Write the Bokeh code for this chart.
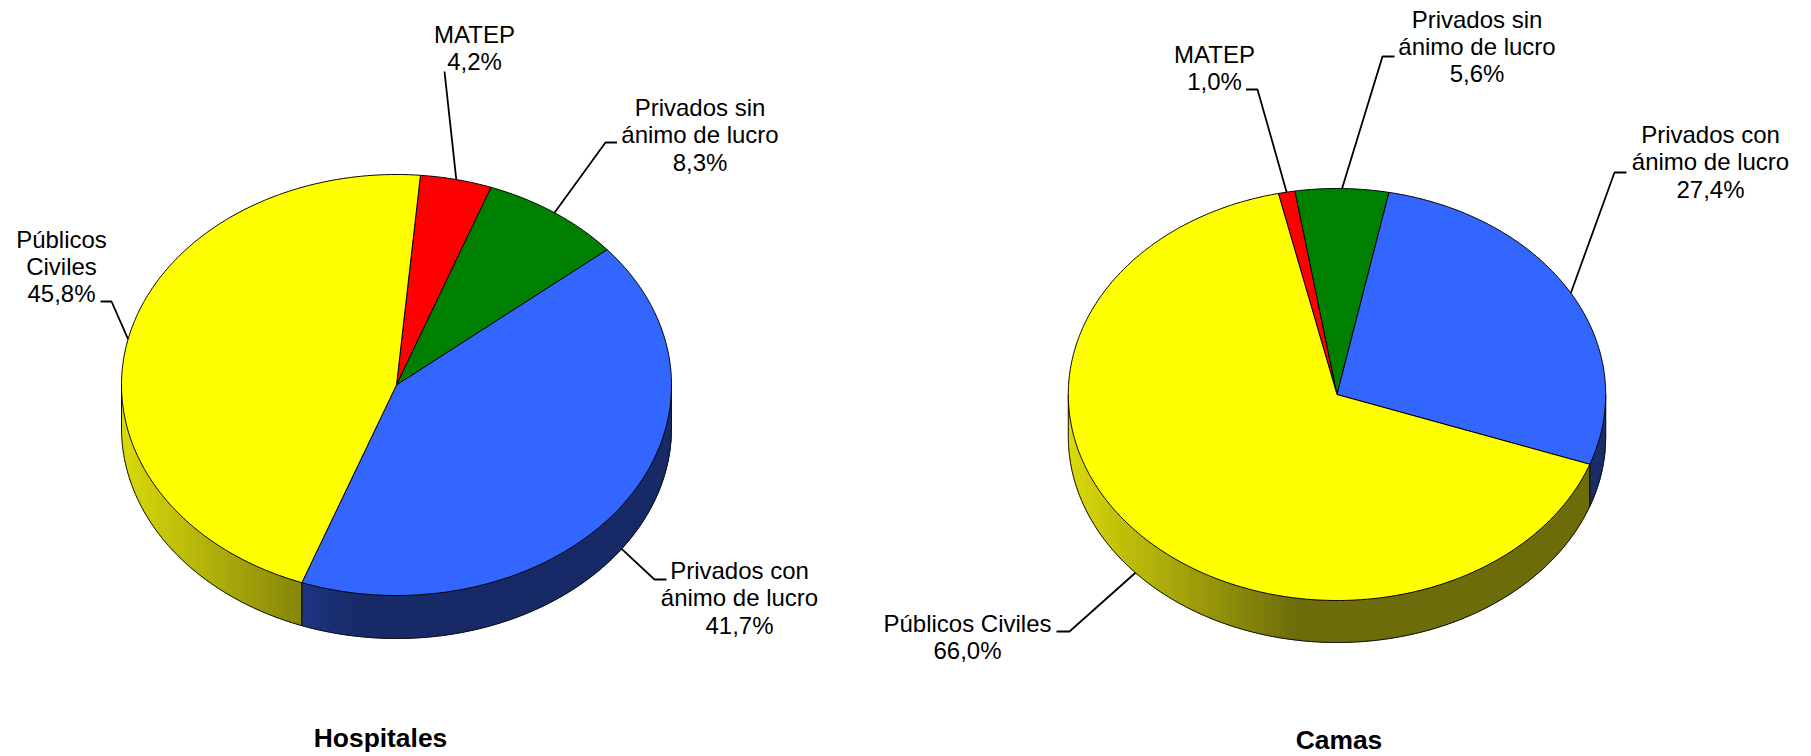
import numpy as np
from bokeh.embed import file_html
from bokeh.layouts import row
from bokeh.models import ColumnDataSource, Range1d
from bokeh.core.properties import value
from bokeh.plotting import figure
from bokeh.resources import INLINE

# ---- data ----
categories = ["MATEP", "Privados sin ánimo de lucro", "Privados con ánimo de lucro", "Públicos Civiles"]
hospitales_pct = [4.2, 8.3, 41.7, 45.8]
camas_pct = [1.0, 5.6, 27.4, 66.0]
hospitales_name_lines = [["MATEP"], ["Privados sin", "ánimo de lucro"], ["Privados con", "ánimo de lucro"], ["Públicos", "Civiles"]]
camas_name_lines = [["MATEP"], ["Privados sin", "ánimo de lucro"], ["Privados con", "ánimo de lucro"], ["Públicos Civiles"]]
titles = ["Hospitales", "Camas"]
colors = [(255, 0, 0), (0, 128, 0), (51, 102, 255), (255, 255, 0)]

# ---- layout (page pixels) ----
FONT = "Liberation Sans"
LABEL_SIZE = "24px"
TITLE_SIZE = "26.4px"
LINE_H = 27.4
hosp_geo = dict(cx=396, cy=384.5, rx=275, ry=210.5, depth=43, start=5.0)
camas_geo = dict(cx=1336.5, cy=394, rx=268.7, ry=206, depth=42, start=347.4)
hosp_label_pos = [(474, 34), (699.5, 107), (739, 570), (61, 238.5)]
camas_label_pos = [(1214, 53.5), (1476.5, 18.5), (1710, 134), (967, 622.5)]
hosp_elbow = [[(444, 71)], [(616.5, 142), (605, 142)], [(666, 579), (654, 579)], [(100, 301), (111, 301)]]
camas_elbow = [[(1245.5, 89), (1257, 89)], [(1394, 56), (1382, 56)], [(1626, 172), (1614, 172)], [(1056, 631), (1069, 631)]]
hosp_title_pos = (380, 737.5)
camas_title_pos = (1338.5, 739)


def pt(g, a):
    r = np.radians(a)
    return g["cx"] + g["rx"] * np.sin(r), g["cy"] - g["ry"] * np.cos(r)


def draw_pie(p, pct, names, geo, label_pos, elbows, title, title_pos):
    total = sum(pct)
    sweeps = [v / total * 360 for v in pct]
    starts = geo["start"] + np.concatenate([[0], np.cumsum(sweeps)[:-1]])
    cx, cy, rx, ry, depth = geo["cx"], geo["cy"], geo["rx"], geo["ry"], geo["depth"]
    left = cx - rx

    # side wall: thin vertical strips with a horizontal shading
    sx, sy, sc = [], [], []
    edges_x, edges_y = [], []
    for s, w, c in zip(starts, sweeps, colors):
        for shift in (-360, 0, 360):
            a0 = max(s + shift, 90)
            a1 = min(s + w + shift, 270)
            if a1 <= a0:
                continue
            xhi = pt(geo, a0)[0]
            xlo = pt(geo, a1)[0]
            xs = np.append(np.arange(xlo, xhi, 1.0), xhi)
            ys = cy + ry * np.sqrt(np.clip(1 - ((xs - cx) / rx) ** 2, 0, 1))
            for i in range(len(xs) - 1):
                t = min(max((0.5 * (xs[i] + xs[i + 1]) - left) / (0.86 * rx), 0), 1)
                f = 0.85 - 0.45 * t
                sx.append([xs[i], xs[i + 1], xs[i + 1], xs[i]])
                sy.append([ys[i], ys[i + 1], ys[i + 1] + depth, ys[i] + depth])
                sc.append("#%02x%02x%02x" % tuple(int(v * f) for v in c))
            for a in (a0, a1):
                ex, ey = pt(geo, a)
                edges_x.append([ex, ex])
                edges_y.append([ey, ey + depth])
    p.patches(sx, sy, fill_color=sc, line_color=sc, line_width=0.6)

    arc = np.linspace(90, 270, 240)
    ax, ay = pt(geo, arc)
    p.multi_line(edges_x + [list(ax)], edges_y + [list(ay + depth)], line_color="#111111", line_width=1)

    # top surface
    px, py, pc = [], [], []
    for s, w, c in zip(starts, sweeps, colors):
        th = np.linspace(s, s + w, max(int(w * 2), 6))
        ex, ey = pt(geo, th)
        px.append([cx] + list(ex))
        py.append([cy] + list(ey))
        pc.append("#%02x%02x%02x" % c)
    p.patches(px, py, fill_color=pc, line_color="#000000", line_width=1)

    # leaders, ending on the rim at each slice's middle angle
    lx, ly = [], []
    for s, w, el in zip(starts, sweeps, elbows):
        mid = s + w / 2
        ex, ey = pt(geo, mid)
        if np.cos(np.radians(mid)) < 0:
            ey += depth
        lx.append([e[0] for e in el] + [ex])
        ly.append([e[1] for e in el] + [ey])
    p.multi_line(lx, ly, line_color="#000000", line_width=1.8)

    # labels
    tx, ty, tt = [], [], []
    for v, nm, (x0, y0) in zip(pct, names, label_pos):
        lines = nm + [f"{v:.1f}".replace(".", ",") + "%"]
        for i, t in enumerate(lines):
            tx.append(x0)
            ty.append(y0 + i * LINE_H)
            tt.append(t)
    src = ColumnDataSource(dict(x=tx, y=ty, t=tt))
    p.text("x", "y", text="t", source=src, text_font=value(FONT), text_font_size=value(LABEL_SIZE),
           text_align="center", text_baseline="alphabetic", text_color="#000000")
    p.text([title_pos[0]], [title_pos[1]], text=[title], text_font=value(FONT), text_font_size=value(TITLE_SIZE),
           text_font_style="bold", text_align="center", text_baseline="alphabetic", text_color="#000000")


def make_fig(x0, x1):
    p = figure(width=x1 - x0, height=755, x_range=Range1d(x0, x1), y_range=Range1d(755, 0),
               x_axis_type=None, y_axis_type=None, toolbar_location=None, output_backend="svg",
               min_border=0, outline_line_color=None, background_fill_color="white")
    p.grid.visible = False
    return p


p1 = make_fig(0, 860)
p2 = make_fig(860, 1805)
draw_pie(p1, hospitales_pct, hospitales_name_lines, hosp_geo, hosp_label_pos, hosp_elbow, titles[0], hosp_title_pos)
draw_pie(p2, camas_pct, camas_name_lines, camas_geo, camas_label_pos, camas_elbow, titles[1], camas_title_pos)

layout = row(p1, p2)
open("out.html", "w").write(file_html(layout, INLINE))
